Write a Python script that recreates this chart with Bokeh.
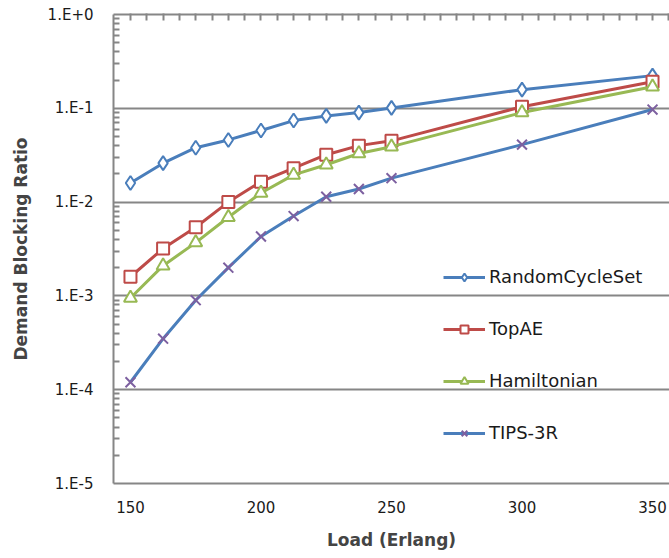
from bokeh.plotting import figure
from bokeh.models import Range1d, FixedTicker, CustomJSTickFormatter, LinearAxis, Legend, LegendItem
from bokeh.embed import file_html
from bokeh.resources import INLINE

load = [150, 162.5, 175, 187.5, 200, 212.5, 225, 237.5, 250, 300, 350]
random_cycle_set = [0.016, 0.026, 0.038, 0.046, 0.058, 0.074, 0.083, 0.090, 0.101, 0.158, 0.223]
top_ae = [0.0016, 0.0032, 0.0054, 0.0100, 0.0165, 0.023, 0.032, 0.040, 0.045, 0.104, 0.192]
hamiltonian = [0.00095, 0.0021, 0.0037, 0.0069, 0.0125, 0.0195, 0.025, 0.033, 0.039, 0.090, 0.170]
tips_3r = [0.00012, 0.00035, 0.0009, 0.0020, 0.0043, 0.0071, 0.0114, 0.0138, 0.018, 0.041, 0.097]

x_ticks = [150, 200, 250, 300, 350]
y_decades = [1e-5, 1e-4, 1e-3, 1e-2, 1e-1, 1e0]

GRAY = "#868686"
BLUE = "#4A7EBB"
RED = "#BE4B48"
GREEN = "#98B954"
PURPLE = "#7D60A0"
FONT = "DejaVu Sans"

p = figure(width=669, height=558, output_backend="svg", toolbar_location=None,
           y_axis_type="log", x_range=Range1d(143.5, 356.5), y_range=Range1d(1e-5, 1),
           min_border_left=113, min_border_right=0, min_border_top=14, min_border_bottom=75)
p.outline_line_color = None
p.xgrid.visible = False
p.ygrid.grid_line_color = GRAY
p.ygrid.grid_line_width = 2

# y axis
ya = p.yaxis[0]
ya.ticker = FixedTicker(ticks=y_decades,
                        minor_ticks=[k * 10.0 ** e for e in range(-5, 0) for k in range(2, 10)])
ya.formatter = CustomJSTickFormatter(code="""
const e = Math.round(Math.log10(tick));
return "1.E" + (e >= 0 ? "+" : "") + e;
""")
ya.axis_line_color = GRAY
ya.axis_line_width = 2
ya.major_tick_in = 0
ya.major_tick_out = 0
ya.minor_tick_in = 6
ya.minor_tick_out = 0
ya.minor_tick_line_color = GRAY
ya.minor_tick_line_width = 2
ya.major_label_text_font = FONT
ya.major_label_text_font_size = "15px"
ya.major_label_text_color = "#1a1a1a"
ya.major_label_standoff = 20
ya.axis_label = "Demand Blocking Ratio"
ya.axis_label_text_font = FONT
ya.axis_label_text_font_style = "bold"
ya.axis_label_text_font_size = "17px"
ya.axis_label_standoff = 14

# x axis
xa = p.xaxis[0]
xa.ticker = FixedTicker(ticks=x_ticks)
xa.axis_line_color = GRAY
xa.axis_line_width = 2
xa.major_tick_in = 0
xa.major_tick_out = 0
xa.minor_tick_in = 0
xa.minor_tick_out = 0
xa.major_label_text_font = FONT
xa.major_label_text_font_size = "15px"
xa.major_label_text_color = "#1a1a1a"
xa.major_label_standoff = 17
xa.axis_label = "Load (Erlang)"
xa.axis_label_text_font = FONT
xa.axis_label_text_font_style = "bold"
xa.axis_label_text_font_size = "17px"
xa.axis_label_standoff = 14

# top axis: tick marks only (pointing into the plot)
top = LinearAxis(ticker=FixedTicker(ticks=[150 + 6.25 * k for k in range(34)]))
top.axis_line_color = GRAY
top.axis_line_width = 2
top.major_tick_in = 6
top.major_tick_out = 1
top.major_tick_line_color = GRAY
top.major_tick_line_width = 2
top.minor_tick_in = 0
top.minor_tick_out = 0
top.major_label_standoff = 0
top.major_label_text_font_size = "8px"
top.major_label_text_color = None
p.add_layout(top, "above")

# series
r1l = p.line(load, random_cycle_set, line_color=BLUE, line_width=3)
r1m = p.scatter(load, random_cycle_set, marker="diamond", size=14,
                line_color=BLUE, line_width=2, fill_color="white")
r2l = p.line(load, top_ae, line_color=RED, line_width=3)
r2m = p.scatter(load, top_ae, marker="square", size=12, line_color=RED,
                line_width=2, fill_color="white")
r3l = p.line(load, hamiltonian, line_color=GREEN, line_width=3)
r3m = p.scatter(load, hamiltonian, marker="triangle", size=13, line_color=GREEN,
                line_width=2, fill_color="white")
r4l = p.line(load, tips_3r, line_color=BLUE, line_width=3)
r4m = p.scatter(load, tips_3r, marker="x", size=14, line_color=PURPLE, line_width=2)

legend = Legend(items=[
    LegendItem(label="RandomCycleSet", renderers=[r1l, r1m]),
    LegendItem(label="TopAE", renderers=[r2l, r2m]),
    LegendItem(label="Hamiltonian", renderers=[r3l, r3m]),
    LegendItem(label="TIPS-3R", renderers=[r4l, r4m]),
], location=(330, 40))
legend.background_fill_alpha = 0
legend.border_line_color = None
legend.padding = 0
legend.margin = 0
legend.spacing = 31
legend.glyph_width = 42
legend.glyph_height = 20
legend.label_standoff = 4
legend.label_text_font = FONT
legend.label_text_font_size = "18px"
legend.label_text_color = "#1a1a1a"
p.add_layout(legend, "center")

open("out.html", "w").write(file_html(p, INLINE))
